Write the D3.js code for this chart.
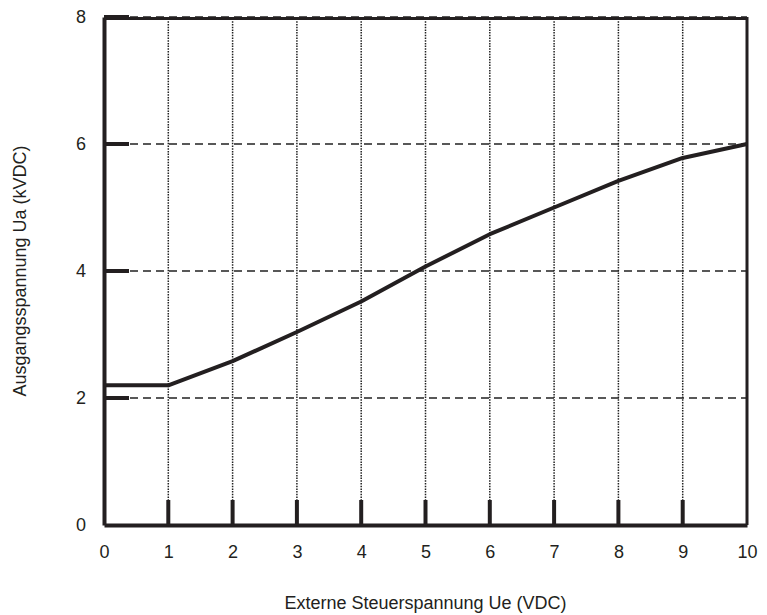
<!DOCTYPE html>
<html>
<head>
<meta charset="utf-8">
<script src="https://cdn.jsdelivr.net/npm/d3@7"></script>
<style>
body { margin: 0; background: #fff; }
text { font-family: "Liberation Sans", Arial, sans-serif; fill: #231f20; }
</style>
</head>
<body>
<div id="chart"></div>
<script>
// DATA
var steuerU = [0, 1, 2, 3, 4, 5, 6, 7, 8, 9, 10];
var ausgangU = [2.2, 2.2, 2.58, 3.04, 3.52, 4.07, 4.58, 5.0, 5.42, 5.78, 6.0];
var xTicks = [0, 1, 2, 3, 4, 5, 6, 7, 8, 9, 10];
var yTicks = [0, 2, 4, 6, 8];

var W = 767, H = 615;
var margin = {top: 17, right: 20, bottom: 90, left: 104};

var svg = d3.select("#chart").append("svg")
  .attr("width", W)
  .attr("height", H);

var xScale = d3.scaleLinear().domain([0, 10]).range([margin.left, W - margin.right]);
var yScale = d3.scaleLinear().domain([0, 8]).range([H - margin.bottom, margin.top]);

var ink = "#231f20";

// GRID LINES
svg.append("g")
  .selectAll("line")
  .data(xTicks.slice(1, -1))
  .enter().append("line")
  .attr("x1", function(d) { return xScale(d); })
  .attr("x2", function(d) { return xScale(d); })
  .attr("y1", yScale(0))
  .attr("y2", yScale(8))
  .attr("stroke", "#222")
  .attr("stroke-width", 1.5)
  .attr("stroke-dasharray", "1.5,1.2");

svg.append("g")
  .selectAll("line")
  .data(yTicks.slice(1))
  .enter().append("line")
  .attr("x1", xScale(0))
  .attr("x2", xScale(10))
  .attr("y1", function(d) { return yScale(d); })
  .attr("y2", function(d) { return yScale(d); })
  .attr("stroke", "#222")
  .attr("stroke-width", 1.4)
  .attr("stroke-dasharray", "8,5");

// FRAME
svg.append("line") // top
  .attr("x1", xScale(0)).attr("x2", xScale(10))
  .attr("y1", yScale(8) + 1.5).attr("y2", yScale(8) + 1.5)
  .attr("stroke", ink).attr("stroke-width", 3);
svg.append("line") // right
  .attr("x1", xScale(10)).attr("x2", xScale(10))
  .attr("y1", yScale(8)).attr("y2", yScale(0))
  .attr("stroke", ink).attr("stroke-width", 3);

// AXES
var xAxis = d3.axisBottom(xScale).tickValues(xTicks).tickSize(0).tickPadding(20);
var yAxis = d3.axisLeft(yScale).tickValues(yTicks).tickSize(0).tickPadding(18);

var gx = svg.append("g")
  .attr("transform", "translate(0," + yScale(0) + ")")
  .call(xAxis);
gx.select(".domain").attr("stroke", ink).attr("stroke-width", 4);
gx.selectAll("text").style("font-size", "18px");

var gy = svg.append("g")
  .attr("transform", "translate(" + xScale(0) + ",0)")
  .call(yAxis);
gy.select(".domain").attr("stroke", ink).attr("stroke-width", 4);
gy.selectAll("text").style("font-size", "18px");

// INNER TICK MARKS
svg.append("g")
  .selectAll("line")
  .data(xTicks.slice(1, -1))
  .enter().append("line")
  .attr("x1", function(d) { return xScale(d); })
  .attr("x2", function(d) { return xScale(d); })
  .attr("y1", yScale(0))
  .attr("y2", yScale(0) - 25)
  .attr("stroke", ink)
  .attr("stroke-width", 4);

svg.append("g")
  .selectAll("line")
  .data(yTicks.slice(1))
  .enter().append("line")
  .attr("x1", xScale(0))
  .attr("x2", xScale(0) + 25)
  .attr("y1", function(d) { return yScale(d); })
  .attr("y2", function(d) { return yScale(d); })
  .attr("stroke", ink)
  .attr("stroke-width", 4);

// CURVE
var line = d3.line()
  .x(function(d, i) { return xScale(steuerU[i]); })
  .y(function(d) { return yScale(d); });

svg.append("path")
  .datum(ausgangU)
  .attr("d", line)
  .attr("fill", "none")
  .attr("stroke", ink)
  .attr("stroke-width", 4)
  .attr("stroke-linejoin", "round");

// AXIS TITLES
svg.append("text")
  .attr("x", (xScale(0) + xScale(10)) / 2)
  .attr("y", 609)
  .attr("text-anchor", "middle")
  .style("font-size", "18px")
  .text("Externe Steuerspannung Ue (VDC)");

svg.append("text")
  .attr("transform", "translate(26," + yScale(4) + ") rotate(-90)")
  .attr("text-anchor", "middle")
  .style("font-size", "18px")
  .text("Ausgangsspannung Ua (kVDC)");
</script>
</body>
</html>
